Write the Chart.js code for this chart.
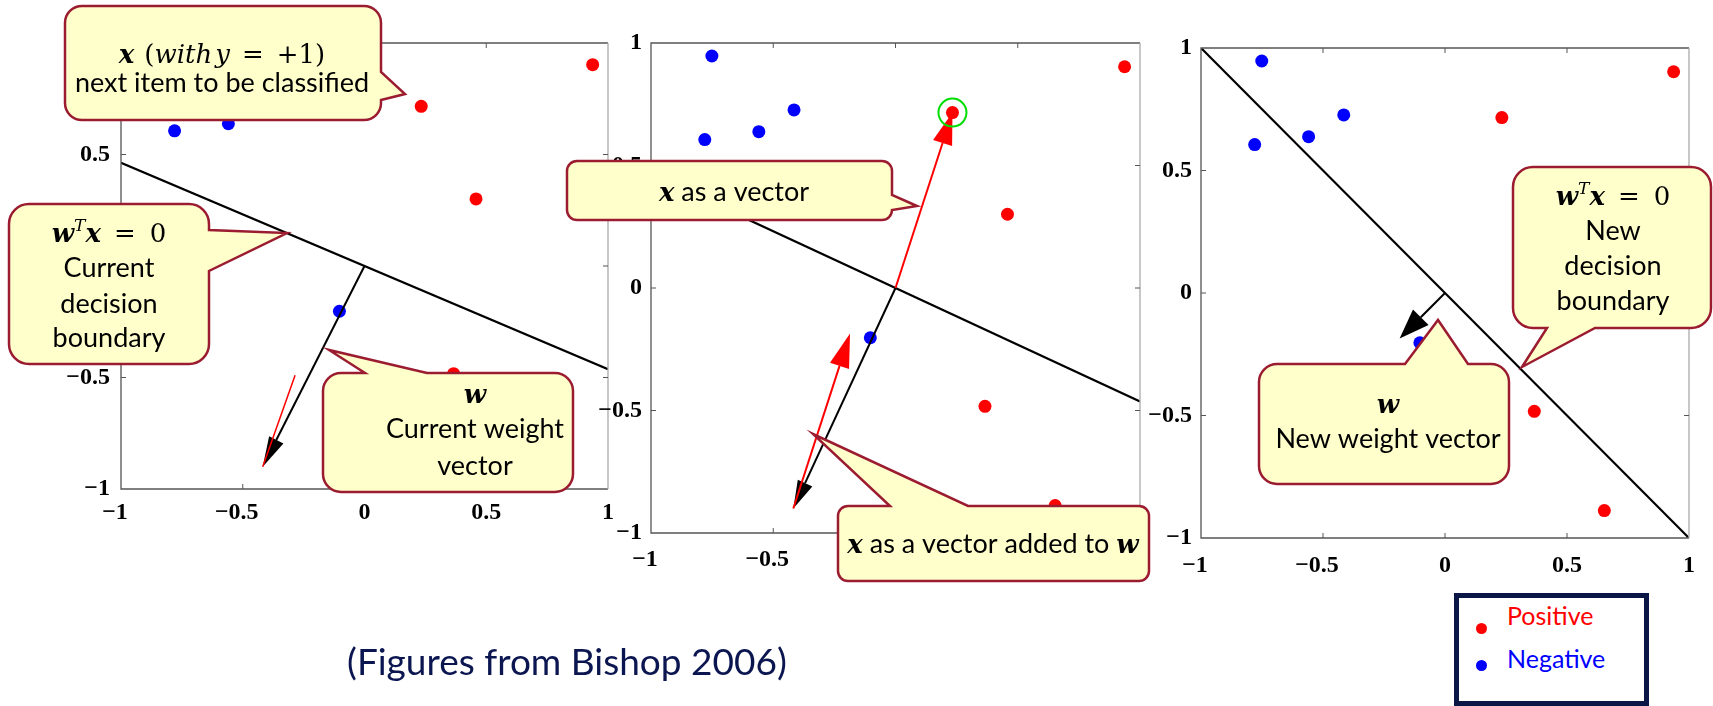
<!DOCTYPE html>
<html>
<head>
<meta charset="utf-8">
<script src="https://cdn.jsdelivr.net/npm/chart.js@4.4.1/dist/chart.umd.min.js"></script>
<style>
  body { margin: 0; background: #fff; width: 1713px; height: 706px; overflow: hidden; position: relative; font-family: Lato, sans-serif; }
  canvas.panel { position: absolute; }
  #notes { position: absolute; left: 0; top: 0; pointer-events: none; }
  #source { position: absolute; left: 347px; top: 641px; line-height: 40px; font-size: 37px; color: #0b1650; white-space: nowrap; }
  #legend { position: absolute; left: 1454px; top: 593px; width: 195px; height: 113px; box-sizing: border-box; border: 5px solid #0a1646; background: #fff; }
  #legend .dot { position: absolute; width: 11px; height: 11px; border-radius: 50%; }
  #legend .lab { position: absolute; left: 48px; font-size: 25px; line-height: 30px; white-space: nowrap; }
</style>
</head>
<body>
<canvas id="p1" class="panel"></canvas>
<canvas id="p2" class="panel"></canvas>
<canvas id="p3" class="panel"></canvas>
<canvas id="notes" width="1713" height="706"></canvas>
<div id="source">(Figures from Bishop 2006)</div>
<div id="legend">
  <span class="dot" style="left:17px; top:25px; background:#ff0000"></span>
  <span class="lab" style="top:2px; color:#ff0000">Positive</span>
  <span class="dot" style="left:17px; top:62px; background:#0000ff"></span>
  <span class="lab" style="top:45px; color:#0000ff">Negative</span>
</div>
<script>
// data points (same set in all three panels)
const positiveX = [0.937, 0.233, 0.458, 0.366, 0.653];
const positiveY = [0.903, 0.716, 0.301, -0.483, -0.888];
const negativeX = [-0.751, -0.780, -0.559, -0.415, -0.103];
const negativeY = [0.947, 0.606, 0.638, 0.727, -0.203];

// axis ticks
const tickValues = [-1, -0.5, 0, 0.5, 1];
const tickLabels = ["\u22121", "\u22120.5", "0", "0.5", "1"];

// decision boundaries, sampled at the two ends of the x range
const boundaryX = [-1, 1];
const oldBoundaryY = [0.463, -0.463];
const newBoundaryY = [1, -1];

// vectors
const origin = [0, 0];
const wOld = [-0.418, -0.9];
const xNext = [0.233, 0.716];
const wNew = [-0.186, -0.186];
const redPartialEnd = [-0.285, -0.49]; // only part of the red vector shows in panel 1

const panels = [
  { id: "p1", area: [121, 43, 608, 489], xPad: 9, yPad: 11, by: oldBoundaryY,
    arrows: [
      { from: origin, to: wOld, color: "#000", lw: 2, head: [30, 8] },
      { from: wOld, to: redPartialEnd, color: "#ff0000", lw: 1.5, head: [0, 0] }
    ] },
  { id: "p2", area: [651, 43, 1140, 533], xPad: 12, yPad: 9, by: oldBoundaryY, ring: xNext,
    arrows: [
      { from: origin, to: wOld, color: "#000", lw: 2, head: [28, 8] },
      { from: origin, to: xNext, color: "#ff0000", lw: 2, head: [32, 10] },
      { from: wOld, to: wNew, color: "#ff0000", lw: 2, head: [34, 10] }
    ] },
  { id: "p3", area: [1201, 48, 1689, 538], xPad: 13, yPad: 9, by: newBoundaryY,
    arrows: [
      { from: origin, to: wNew, color: "#000", lw: 2, head: [30, 11] }
    ] }
];

const AXIS_W = 80, PAD_T = 30, PAD_R = 20, AXIS_H = 45;
const tickFont = { family: '"Liberation Serif", "Times New Roman", serif', size: 24, weight: "bold" };

function drawArrow(ctx, x0, y0, x1, y1, color, lw, len, hw) {
  const ang = Math.atan2(y1 - y0, x1 - x0);
  const bx = x1 - len * Math.cos(ang), by = y1 - len * Math.sin(ang);
  ctx.strokeStyle = color;
  ctx.lineWidth = lw;
  ctx.beginPath();
  ctx.moveTo(x0, y0);
  ctx.lineTo(bx, by);
  ctx.stroke();
  if (len > 0) {
    ctx.fillStyle = color;
    ctx.beginPath();
    ctx.moveTo(x1, y1);
    ctx.lineTo(bx + hw * Math.sin(ang), by - hw * Math.cos(ang));
    ctx.lineTo(bx - hw * Math.sin(ang), by + hw * Math.cos(ang));
    ctx.closePath();
    ctx.fill();
  }
}

const framePlugin = {
  id: "frame",
  afterDatasetsDraw(chart, args, opts) {
    const { ctx, chartArea: a, scales } = chart;
    const xs = scales.x, ys = scales.y;
    ctx.save();
    // vectors
    (opts.arrows || []).forEach(ar => {
      drawArrow(ctx, xs.getPixelForValue(ar.from[0]), ys.getPixelForValue(ar.from[1]),
        xs.getPixelForValue(ar.to[0]), ys.getPixelForValue(ar.to[1]), ar.color, ar.lw, ar.head[0], ar.head[1]);
    });
    if (opts.ring) {
      ctx.strokeStyle = "#00dd00";
      ctx.lineWidth = 2;
      ctx.beginPath();
      ctx.arc(xs.getPixelForValue(opts.ring[0]), ys.getPixelForValue(opts.ring[1]), 14, 0, Math.PI * 2);
      ctx.stroke();
    }
    // box
    ctx.lineWidth = 1.3;
    ctx.strokeStyle = "#555";
    ctx.beginPath();
    ctx.moveTo(a.right, a.top); ctx.lineTo(a.left, a.top); ctx.lineTo(a.left, a.bottom); ctx.lineTo(a.right, a.bottom);
    ctx.stroke();
    ctx.strokeStyle = "#aaa";
    ctx.beginPath();
    ctx.moveTo(a.right, a.top); ctx.lineTo(a.right, a.bottom);
    ctx.stroke();
    // inward ticks on all sides
    ctx.strokeStyle = "#555";
    ctx.lineWidth = 1;
    ctx.beginPath();
    tickValues.slice(1, -1).forEach(v => {
      const px = xs.getPixelForValue(v), py = ys.getPixelForValue(v);
      ctx.moveTo(px, a.bottom); ctx.lineTo(px, a.bottom - 5);
      ctx.moveTo(px, a.top); ctx.lineTo(px, a.top + 5);
      ctx.moveTo(a.left, py); ctx.lineTo(a.left + 5, py);
      ctx.moveTo(a.right, py); ctx.lineTo(a.right - 5, py);
    });
    ctx.stroke();
    ctx.restore();
  }
};

function makePanel(p) {
  const [l, t, r, b] = p.area;
  const cv = document.getElementById(p.id);
  cv.width = AXIS_W + (r - l) + PAD_R;
  cv.height = PAD_T + (b - t) + AXIS_H;
  cv.style.left = (l - AXIS_W) + "px";
  cv.style.top = (t - PAD_T) + "px";
  const setTicks = s => { s.ticks = tickValues.map(v => ({ value: v })); };
  const label = (v, pad) => {
    const s = tickLabels[tickValues.indexOf(v)];
    return pad && v < 0 ? s + "\u2002" : s;
  };
  return new Chart(cv, {
    type: "scatter",
    data: {
      datasets: [
        { data: boundaryX.map((x, i) => ({ x: x, y: p.by[i] })), showLine: true, pointRadius: 0,
          borderColor: "#000", borderWidth: 2.2 },
        { data: positiveX.map((x, i) => ({ x: x, y: positiveY[i] })), pointRadius: 6.5,
          backgroundColor: "#ff0000", borderWidth: 0 },
        { data: negativeX.map((x, i) => ({ x: x, y: negativeY[i] })), pointRadius: 6.5,
          backgroundColor: "#0000ff", borderWidth: 0 }
      ]
    },
    options: {
      responsive: false,
      animation: false,
      devicePixelRatio: 1,
      layout: { padding: { top: PAD_T, right: PAD_R, left: 0, bottom: 0 } },
      plugins: { legend: { display: false }, tooltip: { enabled: false }, frame: { arrows: p.arrows, ring: p.ring } },
      scales: {
        x: {
          type: "linear", min: -1, max: 1,
          grid: { display: false, drawTicks: false }, border: { display: false },
          afterBuildTicks: setTicks,
          afterFit: s => { s.height = AXIS_H; },
          ticks: { padding: p.xPad, color: "#000", font: tickFont, maxRotation: 0, autoSkip: false,
                   callback: v => label(v, true) }
        },
        y: {
          type: "linear", min: -1, max: 1,
          grid: { display: false, drawTicks: false }, border: { display: false },
          afterBuildTicks: setTicks,
          afterFit: s => { s.width = AXIS_W; },
          ticks: { padding: p.yPad, color: "#000", font: tickFont, autoSkip: false,
                   callback: v => label(v, false) }
        }
      }
    },
    plugins: [framePlugin]
  });
}

panels.forEach(makePanel);

// ---- callouts ----
const MATH = '"DejaVu Serif", serif';
const SANS = 'Lato, "Open Sans", sans-serif';
const bi = t => ({ t: t, k: "bi" }), it = t => ({ t: t, k: "i" }), rm = t => ({ t: t, k: "r" });
const sup = t => ({ t: t, k: "sup" }), tx = t => ({ t: t, k: "s" }), gap = g => ({ gap: g });
const wTx = [bi("w"), sup("T"), bi("x"), gap(13), rm("="), gap(14), rm("0")];
const sz = { m: 26, s: 27 };

const notes = [
  { box: [65, 6, 316, 114], r: 17, tail: { side: "right", a: 72, b: 100, tx: 405, ty: 94 }, cx: 222,
    lines: [[63, [bi("x"), gap(10), rm("("), it("with"), gap(3), it("y"), gap(12), rm("="), gap(13), rm("+1)")]],
            [92, [tx("next item to be classified")]]] },
  { box: [9, 204, 200, 160], r: 20, tail: { side: "right", a: 230, b: 271, tx: 287, ty: 233 }, cx: 109,
    lines: [[242, wTx], [277, [tx("Current")]], [313, [tx("decision")]], [347, [tx("boundary")]]] },
  { box: [323, 373, 250, 119], r: 18, tail: { side: "top", a: 365, b: 427, tx: 329, ty: 350 }, cx: 475,
    lines: [[403, [bi("w")]], [438, [tx("Current weight")]], [475, [tx("vector")]]] },
  { box: [567, 161, 325, 59], r: 10, tail: { side: "right", a: 195, b: 210, tx: 917, ty: 206 }, cx: 734,
    lines: [[201, [bi("x"), tx(" as a vector")]]] },
  { box: [838, 506, 311, 75], r: 10, tail: { side: "top", a: 890, b: 968, tx: 813, ty: 434 }, cx: 993,
    lines: [[553, [bi("x"), tx(" as a vector added to "), bi("w")]]] },
  { box: [1513, 167, 198, 161], r: 20, tail: { side: "bottom", a: 1547, b: 1595, tx: 1522, ty: 367 }, cx: 1613,
    lines: [[205, wTx], [240, [tx("New")]], [275, [tx("decision")]], [310, [tx("boundary")]]] },
  { box: [1259, 364, 250, 120], r: 18, tail: { side: "top", a: 1405, b: 1468, tx: 1438, ty: 320 }, cx: 1388,
    lines: [[413, [bi("w")]], [448, [tx("New weight vector")]]] }
];

function fontFor(s) {
  if (s.k === "bi") return "italic bold " + sz.m + "px " + MATH;
  if (s.k === "i") return "italic " + sz.m + "px " + MATH;
  if (s.k === "r") return sz.m + "px " + MATH;
  if (s.k === "sup") return "italic " + Math.round(sz.m * 0.65) + "px " + MATH;
  return sz.s + "px " + SANS;
}

function drawLine(ctx, segs, cx, base) {
  const widths = segs.map(s => {
    if (s.gap) return s.gap;
    ctx.font = fontFor(s);
    return ctx.measureText(s.t).width;
  });
  let x = cx - widths.reduce((a, b) => a + b, 0) / 2;
  segs.forEach((s, i) => {
    if (!s.gap) {
      ctx.font = fontFor(s);
      ctx.fillText(s.t, x, base + (s.k === "sup" ? -sz.m * 0.42 : 0));
    }
    x += widths[i];
  });
}

function bubble(ctx, n) {
  const [x, y, w, h] = n.box, r = n.r, t = n.tail;
  const x2 = x + w, y2 = y + h;
  ctx.beginPath();
  ctx.moveTo(x + r, y);
  if (t.side === "top") { ctx.lineTo(t.a, y); ctx.lineTo(t.tx, t.ty); ctx.lineTo(t.b, y); }
  ctx.lineTo(x2 - r, y);
  ctx.arcTo(x2, y, x2, y + r, r);
  if (t.side === "right") { ctx.lineTo(x2, t.a); ctx.lineTo(t.tx, t.ty); ctx.lineTo(x2, t.b); }
  ctx.lineTo(x2, y2 - r);
  ctx.arcTo(x2, y2, x2 - r, y2, r);
  if (t.side === "bottom") { ctx.lineTo(t.b, y2); ctx.lineTo(t.tx, t.ty); ctx.lineTo(t.a, y2); }
  ctx.lineTo(x + r, y2);
  ctx.arcTo(x, y2, x, y2 - r, r);
  ctx.lineTo(x, y + r);
  ctx.arcTo(x, y, x + r, y, r);
  ctx.closePath();
  ctx.fillStyle = "#ffffcc";
  ctx.fill();
  ctx.lineWidth = 2.5;
  ctx.strokeStyle = "#9b1c31";
  ctx.stroke();
}

const nctx = document.getElementById("notes").getContext("2d");
nctx.textBaseline = "alphabetic";
notes.forEach(n => {
  bubble(nctx, n);
  nctx.fillStyle = "#000";
  n.lines.forEach(([base, segs]) => drawLine(nctx, segs, n.cx, base));
});
</script>
</body>
</html>
